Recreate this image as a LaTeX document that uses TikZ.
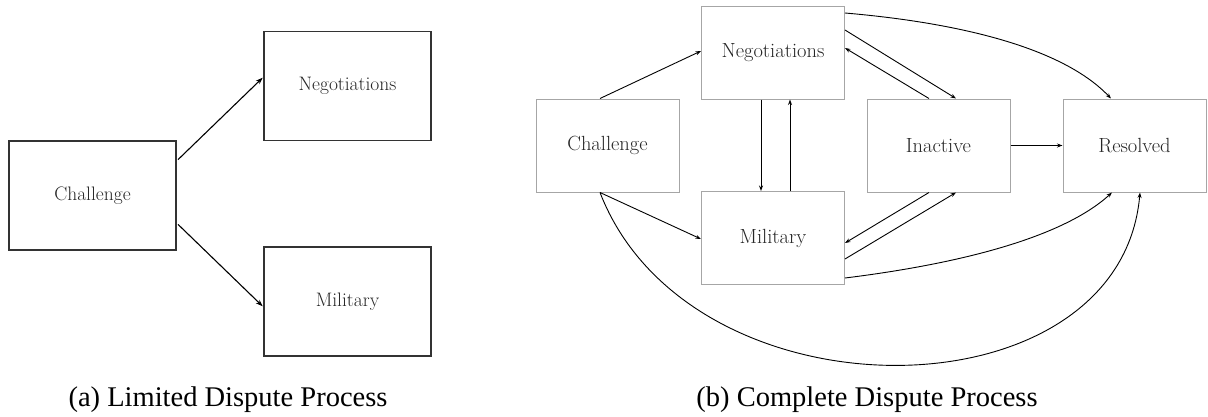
\documentclass[tikz,border=0pt]{standalone}
\usepackage{fontspec}
\newfontfamily\capfont{LiberationSerif}[Extension=.ttf, UprightFont=*-Regular]
\usetikzlibrary{arrows.meta}

\begin{document}
\begin{tikzpicture}[x=1pt,y=-1pt,
  boxA/.style={draw=black!80, line width=1.2pt, minimum width=167pt, minimum height=109pt,
               inner sep=0pt, font=\fontsize{19.5}{22}\selectfont, text=black!85},
  boxB/.style={draw=black!35, line width=1pt, minimum width=143pt, minimum height=93pt,
               inner sep=0pt, font=\fontsize{20.5}{24}\selectfont, text=black!85},
  linkA/.style={-{Stealth[length=7pt,width=5pt]}, line width=1.1pt, shorten <=2pt, shorten >=1pt},
  linkB/.style={-{Stealth[length=5.5pt,width=4pt]}, line width=0.9pt},
  caption/.style={font=\capfont\fontsize{28.5}{32}\selectfont, inner sep=0pt}
]
\useasboundingbox (0,0) rectangle (1208,416);

% (a) limited process
\node[boxA] (chA) at (92.5,195.5) {Challenge};
\node[boxA] (ngA) at (347.5,86) {Negotiations};
\node[boxA] (mlA) at (347.5,301.5) {Military};
\draw[linkA] ([yshift=34.5pt]chA.east) -- ([yshift=9pt]ngA.west);
\draw[linkA] ([yshift=-27.5pt]chA.east) -- ([yshift=-5.5pt]mlA.west);
\node[caption] (capA) at (228,400) {(a) Limited Dispute Process};

% (b) complete process
\node[boxB] (chB) at (607.5,145.5) {Challenge};
\node[boxB] (ngB) at (773,52.5) {Negotiations};
\node[boxB] (mlB) at (773,238) {Military};
\node[boxB] (inB) at (938.5,145.5) {Inactive};
\node[boxB] (rsB) at (1134.5,145.5) {Resolved};

\draw[linkB] ([xshift=-7.5pt]chB.north) -- ([yshift=1.5pt]ngB.west);
\draw[linkB] ([xshift=-7.5pt]chB.south) -- ([yshift=-1pt]mlB.west);
\draw[linkB] ([xshift=-12pt]ngB.south) -- ([xshift=-12pt]mlB.north);
\draw[linkB] ([xshift=17pt]mlB.north) -- ([xshift=17pt]ngB.south);
\draw[linkB] ([yshift=22.5pt]ngB.east) -- ([xshift=17.5pt]inB.north);
\draw[linkB] ([xshift=-9.5pt]inB.north) -- ([yshift=4.5pt]ngB.east);
\draw[linkB] ([xshift=-9.5pt]inB.south) -- ([yshift=-5pt]mlB.east);
\draw[linkB] ([yshift=-21pt]mlB.east) -- ([xshift=17.5pt]inB.south);
\draw[linkB] (inB.east) -- (rsB.west);
\draw[linkB] ([yshift=39.5pt]ngB.east) .. controls (950,22) and (1060,45) .. ([xshift=-23.5pt]rsB.north);
\draw[linkB] ([yshift=-40pt]mlB.east) .. controls (950,265) and (1060,240) .. ([xshift=-22.5pt]rsB.south);
\draw[linkB] ([xshift=-7.5pt]chB.south) .. controls (690,425) and (1120,420) .. ([xshift=5.5pt]rsB.south);
\node[caption] (capB) at (867,400) {(b) Complete Dispute Process};
\end{tikzpicture}
\end{document}
